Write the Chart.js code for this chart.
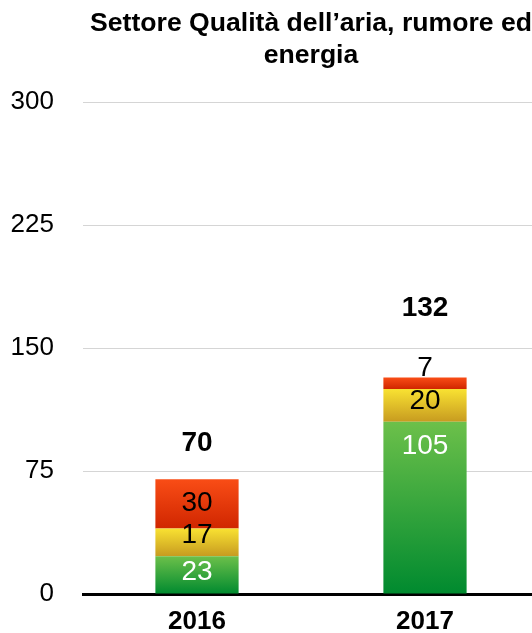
<!DOCTYPE html>
<html>
<head>
<meta charset="utf-8">
<script src="https://cdn.jsdelivr.net/npm/chart.js@4.4.1/dist/chart.umd.min.js"></script>
<style>
  html, body { margin: 0; padding: 0; background: #fff; overflow: hidden; }
  #wrap { position: relative; width: 532px; height: 633px; overflow: hidden; }
  #c { display: block; }
</style>
</head>
<body>
<div id="wrap"><canvas id="c" width="545" height="633"></canvas></div>
<script>
const categories = ['2016', '2017'];
const greenValues = [23, 105];
const yellowValues = [17, 20];
const redValues = [30, 7];
const yTicks = [0, 75, 150, 225, 300];
const titleLines = ['Settore Qualità dell’aria, rumore ed', 'energia'];

const FONT = '"Liberation Sans", Arial, Helvetica, sans-serif';
const series = [greenValues, yellowValues, redValues];
const gradStops = [
  ['#6cc04a', '#008a2f'],
  ['#f9e232', '#c79b20'],
  ['#f94d16', '#d02600']
];
const labelColors = ['#ffffff', '#000000', '#000000'];

function segGradient(ctx, dsIndex) {
  const chart = ctx.chart;
  const y = chart.scales && chart.scales.y;
  if (!chart.chartArea || !y || ctx.dataIndex === undefined) return gradStops[dsIndex][0];
  let base = 0;
  for (let k = 0; k < dsIndex; k++) base += series[k][ctx.dataIndex];
  const top = base + series[dsIndex][ctx.dataIndex];
  const y0 = y.getPixelForValue(top), y1 = y.getPixelForValue(base);
  const g = chart.ctx.createLinearGradient(0, y0, 0, y1 === y0 ? y0 + 1 : y1);
  g.addColorStop(0, gradStops[dsIndex][0]);
  g.addColorStop(1, gradStops[dsIndex][1]);
  return g;
}

const labelPlugin = {
  id: 'segLabels',
  afterDatasetsDraw(chart) {
    const c = chart.ctx;
    c.save();
    c.textAlign = 'center';
    c.textBaseline = 'middle';
    const topLabelY = [];
    chart.data.datasets.forEach((ds, di) => {
      const meta = chart.getDatasetMeta(di);
      meta.data.forEach((el, i) => {
        const top = Math.min(el.y, el.base), bottom = Math.max(el.y, el.base);
        const ly = Math.min(top + 24, bottom - 21);
        c.font = '28px ' + FONT;
        c.fillStyle = labelColors[di];
        c.fillText(String(ds.data[i]), el.x, ly);
        topLabelY[i] = ly;
      });
    });
    const meta0 = chart.getDatasetMeta(0);
    categories.forEach((cat, i) => {
      let total = 0;
      series.forEach(s => total += s[i]);
      c.font = 'bold 28px ' + FONT;
      c.fillStyle = '#000';
      c.fillText(String(total), meta0.data[i].x, topLabelY[i] - 60);
    });
    c.restore();
  }
};

new Chart(document.getElementById('c'), {
  type: 'bar',
  data: {
    labels: categories,
    datasets: series.map((vals, di) => ({
      data: vals,
      backgroundColor: (ctx) => segGradient(ctx, di),
      borderWidth: 0,
      barPercentage: 0.365,
      categoryPercentage: 1.0
    }))
  },
  options: {
    responsive: false,
    animation: false,
    layout: { padding: { top: 8, right: 6, left: 0, bottom: 0 } },
    plugins: {
      legend: { display: false },
      tooltip: { enabled: false },
      title: {
        display: true,
        text: titleLines,
        fullSize: false,
        color: '#000',
        font: { family: FONT, size: 26.6, weight: 'bold', lineHeight: '32px' },
        padding: { top: 0, bottom: 30 }
      }
    },
    scales: {
      x: {
        stacked: true,
        grid: { display: false, drawTicks: false },
        border: { display: true, color: '#000', width: 3 },
        ticks: { color: '#000', font: { family: FONT, size: 26, weight: 'bold' }, padding: 12 },
        afterFit(s) { s.height = 39; }
      },
      y: {
        stacked: true,
        min: 0, max: 300,
        afterBuildTicks(s) { s.ticks = yTicks.map(v => ({ value: v })); },
        grid: { color: '#d5d5d5', lineWidth: 1, drawTicks: true, tickLength: 29, tickColor: 'rgba(0,0,0,0)' },
        border: { display: false },
        ticks: { color: '#000', font: { family: FONT, size: 26 }, padding: 0 },
        afterFit(s) { s.width = 83; }
      }
    }
  },
  plugins: [labelPlugin]
});
</script>
</body>
</html>
